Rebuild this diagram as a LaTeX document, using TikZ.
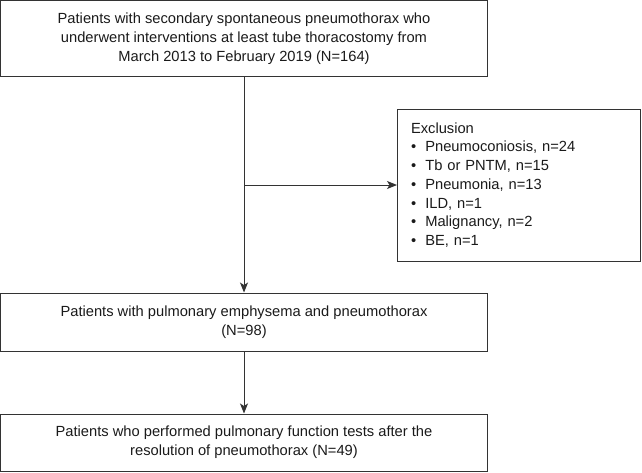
\documentclass[tikz,border=0pt]{standalone}
\usepackage{fontspec}
\setmainfont{Liberation Sans}
\usetikzlibrary{arrows.meta}
\definecolor{linec}{HTML}{333333}
\definecolor{textc}{HTML}{1A1A1A}
\begin{document}
\begin{tikzpicture}[x=1pt,y=-1pt,
  box/.style={draw=linec, line width=1pt, rectangle, inner sep=0pt, align=center,
    text=textc, font=\fontsize{14.7}{18.7}\selectfont, minimum width=487pt},
  arr/.style={draw=linec, line width=1pt, -{Stealth[length=10pt,width=8pt,inset=2.5pt]}},
  ln/.style={draw=linec, line width=1pt}]
\useasboundingbox (0,0) rectangle (642,472);
\node[box, minimum height=76pt] (top) at (244,38.5)
  {Patients with secondary spontaneous pneumothorax who\\underwent interventions at least tube thoracostomy from\\March 2013 to February 2019 (N=164)};
\node[box, minimum width=243pt, minimum height=152pt, align=left, text width=216pt, inner xsep=13.5pt] (excl) at (519,185)
  {Exclusion\\
   \makebox[14.3pt][l]{•}Pneumoconiosis, n=24\\
   \makebox[14.3pt][l]{•}Tb or PNTM, n=15\\
   \makebox[14.3pt][l]{•}Pneumonia, n=13\\
   \makebox[14.3pt][l]{•}ILD, n=1\\
   \makebox[14.3pt][l]{•}Malignancy, n=2\\
   \makebox[14.3pt][l]{•}BE, n=1};
\node[box, minimum height=58pt] (mid) at (244,322)
  {Patients with pulmonary emphysema and pneumothorax\\(N=98)};
\node[box, minimum height=57pt] (bot) at (244,442.5)
  {Patients who performed pulmonary function tests after the\\resolution of pneumothorax (N=49)};
\coordinate (br) at (top.south |- excl.west);
\draw[arr] (top.south) -- (mid.north);
\draw[arr] (br) -- (excl.west);
\draw[arr] (mid.south) -- (bot.north);
\end{tikzpicture}
\end{document}
